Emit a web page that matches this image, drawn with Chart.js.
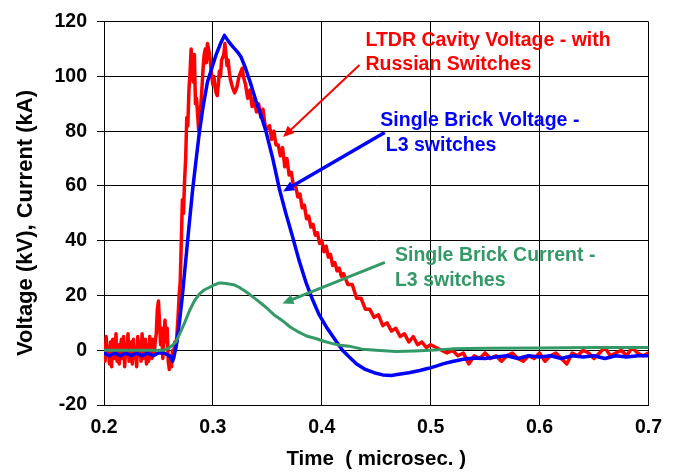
<!DOCTYPE html>
<html>
<head>
<meta charset="utf-8">
<script src="https://cdn.jsdelivr.net/npm/chart.js@4/dist/chart.umd.min.js"></script>
<style>
  body { margin: 0; background: #fff; }
</style>
</head>
<body>
<canvas id="chart" width="673" height="476"></canvas>
<script>
// LTDR cavity voltage (kV), Russian switches
const redTime = [
  0.200, 0.201, 0.202, 0.203, 0.204, 0.205, 0.206, 0.207, 0.208, 0.209,
  0.210, 0.211, 0.212, 0.213, 0.214, 0.215, 0.216, 0.217, 0.218, 0.219,
  0.220, 0.221, 0.222, 0.223, 0.224, 0.225, 0.226, 0.227, 0.228, 0.229,
  0.230, 0.231, 0.232, 0.233, 0.234, 0.235, 0.236, 0.237, 0.238, 0.239,
  0.240, 0.241, 0.242, 0.243, 0.244, 0.245, 0.246, 0.247, 0.248,
  0.249, 0.250, 0.251, 0.252, 0.253,
  0.254, 0.255, 0.256, 0.257, 0.258, 0.259, 0.260, 0.261, 0.262, 0.263,
  0.264, 0.265, 0.266, 0.267, 0.268, 0.269, 0.270, 0.271, 0.272, 0.273,
  0.274, 0.275, 0.276, 0.277, 0.278, 0.279, 0.280, 0.281, 0.282, 0.283,
  0.284, 0.285, 0.286, 0.287, 0.288, 0.289, 0.290, 0.291, 0.292, 0.293,
  0.294, 0.295, 0.296, 0.297, 0.298, 0.299, 0.300, 0.301, 0.302, 0.303,
  0.304, 0.305, 0.306, 0.307, 0.308, 0.310, 0.311, 0.312, 0.313, 0.314,
  0.315, 0.316, 0.318, 0.320, 0.322, 0.324, 0.326, 0.327, 0.328, 0.330,
  0.332, 0.334, 0.336, 0.338, 0.340, 0.342, 0.344, 0.346, 0.348, 0.350,
  0.352, 0.354, 0.356, 0.358, 0.360, 0.362, 0.364, 0.366, 0.368, 0.370,
  0.372, 0.374, 0.376, 0.378, 0.380, 0.382, 0.384, 0.386, 0.388, 0.390,
  0.392, 0.394, 0.396, 0.398, 0.400, 0.402, 0.404, 0.406, 0.408, 0.410,
  0.412, 0.414, 0.416, 0.418, 0.420, 0.424, 0.428, 0.432, 0.436, 0.440,
  0.444, 0.448, 0.452, 0.456, 0.460, 0.464, 0.468, 0.472, 0.476, 0.480,
  0.484, 0.488, 0.492, 0.496, 0.500, 0.505, 0.510, 0.515, 0.520, 0.525,
  0.530, 0.535, 0.540, 0.545, 0.550, 0.555, 0.560, 0.565, 0.570, 0.575,
  0.580, 0.585, 0.590, 0.595, 0.600, 0.605, 0.610, 0.615, 0.620, 0.625,
  0.630, 0.635, 0.640, 0.645, 0.650, 0.655, 0.660, 0.665, 0.670, 0.675,
  0.680, 0.685, 0.690, 0.695, 0.700
];
const redVolt = [
  2, -4, 5, -2, 1, -5, 3, -6, 4, 0,
  -3, 6, -4, 2, -5, 1, 4, -3, 5, -6,
  2, -2, 6, -4, 0, 3, -5, 4, -3, 1,
  -6, 5, -2, 3, -4, 6, -3, 0, 4, -5,
  2, -4, 5, -1, -3, 4, -2, 3, 6,
  15, 18, 10, 2, 8,
  -3, 5, 11, 3, 8, -4, -7, -2, -6, 0,
  -3, 3, 1, 6, 12, 20, 25, 40, 55, 50,
  62, 70, 85, 82, 95, 101, 110, 105, 98, 108,
  90, 92, 86, 80, 84, 90, 96, 103, 108, 110,
  105, 112, 110, 108, 104, 100, 97, 100, 96, 94,
  93, 97, 102, 100, 106, 108, 112, 108, 104, 106,
  102, 99, 96, 94, 96, 100, 102, 103, 100, 97,
  92, 95, 89, 92, 87, 90, 85, 88, 82, 81,
  82, 77, 80, 75, 75, 71, 74, 67, 70, 64,
  65, 60, 60, 56, 57, 52, 53, 48, 49, 45,
  46, 42, 43, 39, 40, 36, 38, 34, 35, 31,
  32, 29, 30, 27, 28, 24, 24, 19, 19, 15,
  15, 12, 13, 9, 10, 7, 8, 5, 6, 3,
  5, 2, 3, 1, 2, 1, 0, -1, 0, -2,
  -1, -5, -2, -3, -1, -3, -2, -4, -2, -1,
  -3, -4, -2, -3, -1, -4, -2, -1, -3, -5,
  -1, -2, 0, -1, -3, -1, 1, -2, -1, 0,
  -2, 1, -1, -2, -1
];

// Single brick voltage (kV), L3 switches
const blueTime = [
  0.200, 0.205, 0.210, 0.215, 0.220, 0.225, 0.230, 0.235, 0.240, 0.245,
  0.250, 0.255, 0.260, 0.263, 0.265, 0.267, 0.2695, 0.272, 0.2756, 0.278,
  0.2815, 0.285, 0.2877, 0.291, 0.295, 0.299, 0.303, 0.307, 0.3106, 0.314,
  0.318, 0.3225, 0.326, 0.330, 0.335, 0.3396, 0.344, 0.3487, 0.355, 0.361,
  0.367, 0.3728, 0.379, 0.3853, 0.391, 0.3975, 0.405, 0.4127, 0.419, 0.425,
  0.432, 0.440, 0.448, 0.456, 0.464, 0.4706, 0.480, 0.490, 0.498, 0.505,
  0.512, 0.520, 0.530, 0.540, 0.550, 0.560, 0.570, 0.580, 0.590, 0.600,
  0.610, 0.620, 0.630, 0.640, 0.650, 0.660, 0.670, 0.680, 0.690, 0.700
];
const blueVolt = [
  -1, -2, -1, -2, -1, -2, -1, -2, -1, -2,
  -1, -1, -2, -4, -1, 3, 11, 20, 35, 45,
  59, 71, 80, 89, 98, 103, 108, 112, 115, 113,
  111, 109, 107, 103, 97, 91, 86, 80, 70, 59,
  50, 42, 33, 25, 19, 13, 8, 3.6, 0, -2.4,
  -5, -7, -8.2, -9, -9.2, -8.8, -8.2, -7.4, -6.6, -5.8,
  -4.9, -4.1, -3.3, -2.8, -3, -2.5, -2, -3, -2, -2.5,
  -2, -3, -2, -2.5, -2, -3, -2, -2.5, -2, -2
];

// Single brick current (kA), L3 switches
const greenTime = [
  0.200, 0.210, 0.220, 0.230, 0.240, 0.250, 0.255, 0.258, 0.262, 0.266,
  0.2695, 0.274, 0.2786, 0.283, 0.2877, 0.292, 0.297, 0.302, 0.306, 0.310,
  0.315, 0.320, 0.324, 0.328, 0.333, 0.340, 0.3487, 0.356, 0.3636, 0.371,
  0.379, 0.386, 0.3944, 0.402, 0.409, 0.417, 0.425, 0.437, 0.450, 0.468,
  0.485, 0.500, 0.520, 0.550, 0.600, 0.650, 0.700
];
const greenAmp = [
  0, 0, 0, 0, 0, 0, 0, 0.5, 1.5, 3,
  6, 10, 14.5, 18, 20.6, 22, 23, 24, 24.6, 24.5,
  24.2, 23.8, 23, 22, 20.6, 18.5, 15.7, 13, 10.9, 8.5,
  6.6, 5.2, 4.3, 3.3, 2.5, 1.8, 1.5, 0.4, 0, -0.5,
  -0.3, 0, 0.5, 0.7, 0.8, 1, 1
];

const xTicks = [0.2, 0.7, 0.1];   // min, max, step
const yTicks = [-20, 120, 20];

const RED = '#ff0000';
const BLUE = '#0000ff';
const GREEN = '#339966';
const FONT = "'Liberation Sans', Arial, Helvetica, sans-serif";

function points(t, v) {
  return t.map((x, i) => ({ x: x, y: v[i] }));
}

// callout labels, anchored in data units
const notes = [
  { lines: ['LTDR Cavity Voltage - with', 'Russian Switches'], color: RED,
    at: [0.4401, 111.2], from: [0.4346, 104.2], to: [0.3645, 77.9], width: 2 },
  { lines: ['Single Brick Voltage -', ' L3 switches'], color: BLUE,
    at: [0.4538, 81.8], from: [0.4578, 79.5], to: [0.3645, 58], width: 3.5 },
  { lines: ['Single Brick Current -', 'L3 switches'], color: GREEN,
    at: [0.4672, 32.5], from: [0.458, 32.1], to: [0.3639, 17.1], width: 3 }
];

const calloutPlugin = {
  id: 'callouts',
  afterDraw(chart) {
    const { ctx, scales: { x, y } } = chart;
    ctx.save();
    notes.forEach(n => {
      const x1 = x.getPixelForValue(n.from[0]), y1 = y.getPixelForValue(n.from[1]);
      const x2 = x.getPixelForValue(n.to[0]), y2 = y.getPixelForValue(n.to[1]);
      const ang = Math.atan2(y2 - y1, x2 - x1);
      const head = 11, half = 5;
      ctx.strokeStyle = n.color;
      ctx.fillStyle = n.color;
      ctx.lineWidth = n.width;
      ctx.beginPath();
      ctx.moveTo(x1, y1);
      ctx.lineTo(x2 - Math.cos(ang) * head * 0.8, y2 - Math.sin(ang) * head * 0.8);
      ctx.stroke();
      ctx.beginPath();
      ctx.moveTo(x2, y2);
      ctx.lineTo(x2 - Math.cos(ang) * head - Math.sin(ang) * half,
                 y2 - Math.sin(ang) * head + Math.cos(ang) * half);
      ctx.lineTo(x2 - Math.cos(ang) * head + Math.sin(ang) * half,
                 y2 - Math.sin(ang) * head - Math.cos(ang) * half);
      ctx.closePath();
      ctx.fill();

      ctx.font = 'bold 19.5px ' + FONT;
      ctx.textAlign = 'left';
      ctx.textBaseline = 'alphabetic';
      const tx = x.getPixelForValue(n.at[0]), ty = y.getPixelForValue(n.at[1]);
      n.lines.forEach((line, i) => ctx.fillText(line, tx, ty + i * 24.5));
    });

    // y axis title
    ctx.fillStyle = '#000';
    ctx.font = 'bold 22px ' + FONT;
    ctx.textAlign = 'center';
    ctx.textBaseline = 'middle';
    ctx.translate(26, 223);
    ctx.rotate(-Math.PI / 2);
    ctx.fillText('Voltage (kV), Current (kA)', 0, 0);
    ctx.restore();
  }
};

const tickFont = { family: FONT, size: 19.5, weight: 'bold' };

new Chart(document.getElementById('chart'), {
  type: 'scatter',
  data: {
    datasets: [
      { label: 'Single Brick Current - L3 switches', data: points(greenTime, greenAmp),
        borderColor: GREEN, borderWidth: 3, order: 0 },
      { label: 'Single Brick Voltage - L3 switches', data: points(blueTime, blueVolt),
        borderColor: BLUE, borderWidth: 3.5, order: 1 },
      { label: 'LTDR Cavity Voltage - with Russian Switches', data: points(redTime, redVolt),
        borderColor: RED, borderWidth: 3.5, order: 2 }
    ].map(d => Object.assign(d, {
      showLine: true, pointRadius: 0, tension: 0, fill: false,
      borderJoinStyle: 'round', borderCapStyle: 'round'
    }))
  },
  options: {
    responsive: false,
    animation: false,
    layout: { padding: { top: 19, right: 22, left: 0, bottom: 0 } },
    plugins: { legend: { display: false }, tooltip: { enabled: false } },
    scales: {
      x: {
        type: 'linear',
        min: xTicks[0], max: xTicks[1],
        ticks: { stepSize: xTicks[2], callback: v => v.toFixed(1), font: tickFont,
                 color: '#000', padding: 11, maxRotation: 0 },
        grid: { color: '#000', lineWidth: 1, drawTicks: false },
        border: { color: '#000', width: 1 },
        title: { display: true, text: 'Time  ( microsec. )', color: '#000',
                 font: { family: FONT, size: 20.5, weight: 'bold' },
                 padding: { top: 0, bottom: 4 } },
        afterFit: s => { s.height = 71; }
      },
      y: {
        min: yTicks[0], max: yTicks[1],
        ticks: { stepSize: yTicks[2], font: tickFont, color: '#000', padding: 10 },
        grid: { color: '#000', lineWidth: 1, tickLength: 7 },
        border: { color: '#000', width: 1 },
        afterFit: s => { s.width = 104; }
      }
    }
  },
  plugins: [calloutPlugin]
});
</script>
</body>
</html>
